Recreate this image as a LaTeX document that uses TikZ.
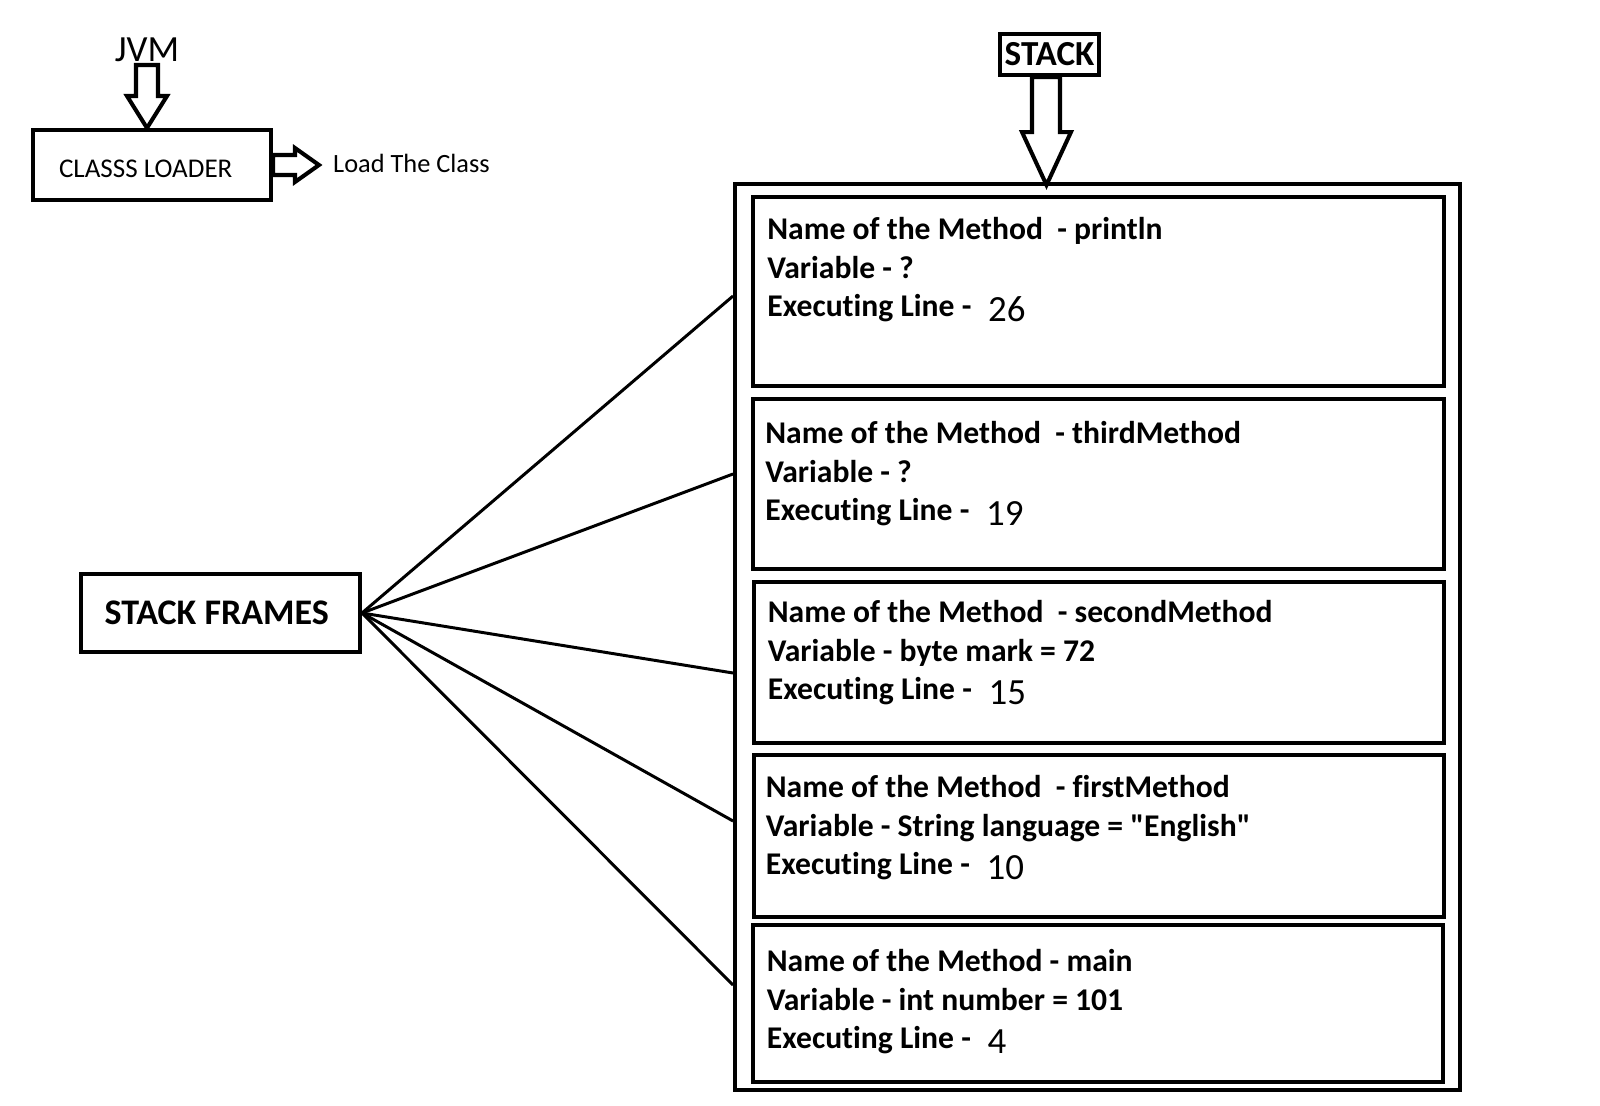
\documentclass[tikz,border=0pt]{standalone}
\usepackage{fontspec}
\setmainfont{Carlito}[Ligatures=NoCommon]
\usetikzlibrary{positioning}

\newcommand\lineno[1]{\hspace{0.3em}\raisebox{-2.5pt}{\mdseries\fontsize{21}{22}\selectfont #1}}

\begin{document}
\begin{tikzpicture}[
  x=0.02cm, y=-0.02cm,
  box/.style={draw, line width=2.3pt, inner sep=0pt},
  frame/.style={box, minimum width=13.82cm},
  info/.style={
    anchor=north west, align=left, inner sep=0pt,
    font=\fontsize{18}{22}\selectfont\bfseries
  },
  fat/.style={draw, line width=2.3pt, fill=white, line join=miter},
  ray/.style={line width=1.7pt}
]
  \useasboundingbox (0,0) rectangle (1600,1106);

  % class loader part
  \node[font=\fontsize{21}{21}\selectfont] (jvm) at (147,50) {JVM};
  \node[box, minimum width=4.76cm, minimum height=1.4cm,
        font=\fontsize{15.4}{15.4}\selectfont] (cl) at (152,165)
    {\smash{\raisebox{-7.3pt}{CLASSS LOADER}}\hspace*{0.25cm}};
  \node[anchor=west, font=\fontsize{15}{15}\selectfont] (load) at (327,163) {Load The Class};

  \draw[fat] ([xshift=-0.1cm]cl.north) -- ++(-20,-32) -- ++(9,0) -- ++(0,-31)
    -- ++(22,0) -- ++(0,31) -- ++(9,0) -- cycle;
  \draw[fat] (cl.east) ++(0,-10) -- ++(22,0) -- ++(0,-7) -- ++(24,17)
    -- ++(-24,17) -- ++(0,-7) -- ++(-22,0) -- cycle;

  % the stack
  \node[box, minimum width=1.98cm, minimum height=0.82cm,
        font=\fontsize{20}{20}\selectfont\bfseries] (stack) at (1049.5,54.5) {STACK};
  \node[box, minimum width=14.5cm, minimum height=18.12cm] (outer) at (1097.5,637) {};

  \draw[fat] (stack.south) ++(-17.5,0) -- ++(0,55) -- ++(-10,0) -- ++(24.5,53)
    -- ++(24.5,-53) -- ++(-11,0) -- ++(0,-55) -- cycle;

  \node[frame, minimum height=3.78cm] (f1) at (1098.5,291.5) {};
  \node[frame, minimum height=3.4cm]  (f2) at (1098.5,484) {};
  \node[frame, minimum height=3.22cm] (f3) at (1099,662.5) {};
  \node[frame, minimum height=3.24cm] (f4) at (1099,836) {};
  \node[frame, minimum height=3.14cm] (f5) at (1098,1003.5) {};

  \node[info, below right=0.44cm and 0.32cm of f1.north west] (t1)
    {Name of the Method\ \ - println\\Variable - ?\\Executing Line - \lineno{26}};
  \node[info, below right=0.48cm and 0.28cm of f2.north west] (t2)
    {Name of the Method\ \ - thirdMethod\\Variable - ?\\Executing Line - \lineno{19}};
  \node[info, below right=0.4cm and 0.32cm of f3.north west] (t3)
    {Name of the Method\ \ - secondMethod\\Variable - byte mark = 72\\Executing Line - \lineno{15}};
  \node[info, below right=0.44cm and 0.28cm of f4.north west] (t4)
    {Name of the Method\ \ - firstMethod\\Variable - String language = \textquotedbl English\textquotedbl\\Executing Line - \lineno{10}};
  \node[info, below right=0.52cm and 0.32cm of f5.north west] (t5)
    {Name of the Method - main\\Variable - int number = 101\\Executing Line - \lineno{4}};

  % stack frames
  \node[box, minimum width=5.58cm, minimum height=1.56cm,
        font=\fontsize{20.5}{20.5}\selectfont\bfseries] (sf) at (220.5,613) {STACK FRAMES\hspace*{0.15cm}};

  \draw[ray] (sf.east) -- (outer.west |- 0,296);
  \draw[ray] (sf.east) -- (outer.west |- 0,474);
  \draw[ray] (sf.east) -- (outer.west |- 0,673);
  \draw[ray] (sf.east) -- (outer.west |- 0,821);
  \draw[ray] (sf.east) -- (outer.west |- 0,985);
\end{tikzpicture}
\end{document}
